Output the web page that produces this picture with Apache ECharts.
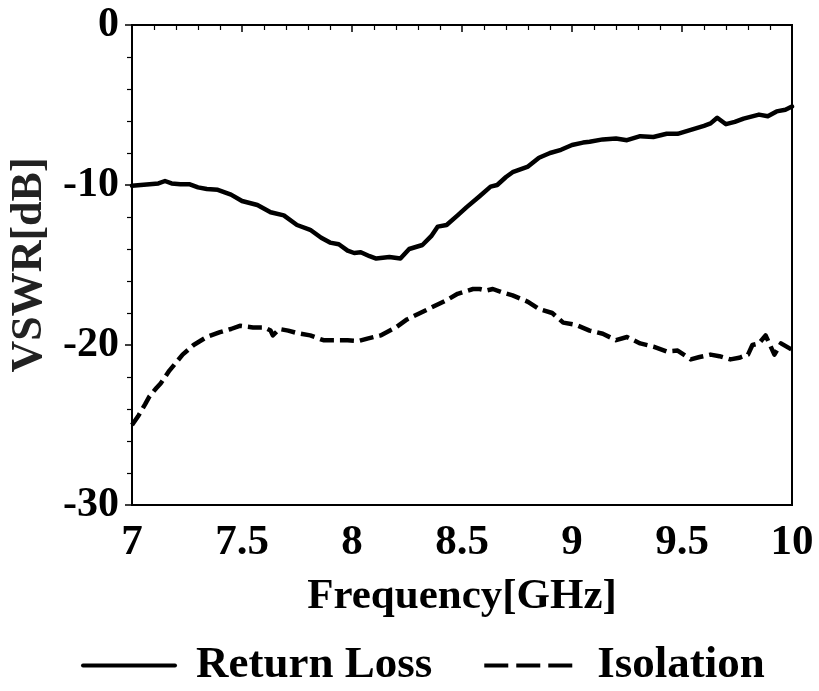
<!DOCTYPE html>
<html>
<head>
<meta charset="utf-8">
<script src="https://cdn.jsdelivr.net/npm/echarts@6/dist/echarts.min.js"></script>
<style>
html,body{margin:0;padding:0;background:#fff;}
#chart{width:819px;height:691px;}
</style>
</head>
<body>
<div id="chart"></div>
<script>
var returnLossFreq = [7.00,7.04,7.08,7.12,7.15,7.18,7.22,7.26,7.30,7.34,7.39,7.45,7.50,7.57,7.63,7.69,7.75,7.81,7.86,7.90,7.94,7.98,8.01,8.04,8.08,8.11,8.17,8.22,8.26,8.32,8.36,8.39,8.43,8.48,8.52,8.58,8.63,8.66,8.70,8.73,8.80,8.85,8.90,8.95,9.00,9.05,9.08,9.14,9.20,9.25,9.31,9.37,9.43,9.48,9.54,9.60,9.63,9.66,9.70,9.74,9.78,9.85,9.89,9.93,9.97,10.00];
var returnLossDb = [-10.05,-10.0,-9.95,-9.9,-9.75,-9.9,-9.95,-9.95,-10.15,-10.25,-10.3,-10.6,-11.0,-11.25,-11.7,-11.9,-12.5,-12.8,-13.3,-13.6,-13.7,-14.1,-14.25,-14.2,-14.45,-14.6,-14.5,-14.6,-14.0,-13.75,-13.2,-12.6,-12.5,-11.9,-11.4,-10.7,-10.1,-10.0,-9.5,-9.2,-8.85,-8.3,-8.0,-7.8,-7.5,-7.35,-7.3,-7.15,-7.1,-7.2,-6.95,-7.0,-6.8,-6.8,-6.55,-6.3,-6.15,-5.8,-6.2,-6.05,-5.85,-5.6,-5.7,-5.4,-5.3,-5.1];
var isolationFreq = [7.00,7.03,7.06,7.08,7.11,7.13,7.17,7.20,7.23,7.28,7.34,7.40,7.45,7.49,7.55,7.60,7.63,7.64,7.67,7.71,7.75,7.81,7.87,7.93,7.98,8.03,8.07,8.13,8.20,8.25,8.31,8.37,8.43,8.48,8.55,8.58,8.61,8.64,8.68,8.73,8.80,8.85,8.91,8.96,9.02,9.08,9.14,9.20,9.25,9.31,9.37,9.43,9.48,9.54,9.58,9.63,9.67,9.72,9.76,9.80,9.82,9.85,9.88,9.92,9.95,10.00];
var isolationDb = [-25.0,-24.4,-23.7,-23.2,-22.7,-22.4,-21.6,-21.1,-20.6,-20.0,-19.5,-19.2,-19.0,-18.8,-18.9,-18.9,-19.1,-19.4,-19.0,-19.1,-19.25,-19.4,-19.7,-19.7,-19.7,-19.75,-19.6,-19.4,-18.9,-18.4,-18.0,-17.6,-17.2,-16.8,-16.5,-16.5,-16.6,-16.5,-16.7,-16.9,-17.3,-17.75,-18.0,-18.6,-18.75,-19.1,-19.3,-19.7,-19.5,-19.9,-20.1,-20.4,-20.35,-20.9,-20.75,-20.6,-20.7,-20.9,-20.8,-20.6,-20.0,-19.9,-19.4,-20.6,-19.9,-20.3];
var xTickValues = [7,7.5,8,8.5,9,9.5,10];
var xTickLabels = ['7','7.5','8','8.5','9','9.5','10'];
var yTickValues = [0,-10,-20,-30];
var yTickLabels = ['0','-10','-20','-30'];
var seriesNames = ['Return Loss','Isolation'];

function pairs(xs, ys){ return xs.map(function(x,i){ return [x, ys[i]]; }); }
function lookup(vals, labels){
  return function(v){
    for (var i=0;i<vals.length;i++){ if (Math.abs(vals[i]-v)<1e-6) return labels[i]; }
    return '';
  };
}

var FONT = '"Liberation Serif","Times New Roman",serif';
var chart = echarts.init(document.getElementById('chart'), null, {renderer:'canvas'});
chart.setOption({
  animation:false,
  backgroundColor:'#fff',
  grid:{left:132, top:25, width:660, height:480, show:true, borderColor:'#000', borderWidth:2, containLabel:false},
  xAxis:{
    type:'value', min:7, max:10, interval:0.5,
    name:'Frequency[GHz]', nameLocation:'middle', nameGap:70,
    nameTextStyle:{fontFamily:FONT, fontWeight:'bold', fontSize:43, color:'#000'},
    axisLine:{show:true, lineStyle:{color:'#000', width:2}},
    axisTick:{show:true, inside:false, length:7, lineStyle:{color:'#000', width:1.5}},
    minorTick:{show:true, splitNumber:5, length:5, lineStyle:{color:'#000', width:1.2}},
    splitLine:{show:false},
    axisLabel:{margin:16, fontFamily:FONT, fontWeight:'bold', fontSize:43, color:'#000', formatter:lookup(xTickValues,xTickLabels)}
  },
  yAxis:{
    type:'value', min:-30, max:0, interval:10,
    name:'VSWR[dB]', nameLocation:'middle', nameGap:70, nameRotate:90,
    nameTextStyle:{fontFamily:FONT, fontWeight:'bold', fontSize:44, color:'#222'},
    axisLine:{show:true, lineStyle:{color:'#000', width:2}},
    axisTick:{show:true, inside:false, length:7, lineStyle:{color:'#000', width:1.5}},
    minorTick:{show:true, splitNumber:5, length:5, lineStyle:{color:'#000', width:1.2}},
    splitLine:{show:false},
    axisLabel:{margin:13, fontFamily:FONT, fontWeight:'bold', fontSize:42, color:'#000', formatter:lookup(yTickValues,yTickLabels)}
  },
  legend:{
    show:true, orient:'horizontal', left:81, top:643, padding:0, itemWidth:92, itemHeight:14, itemGap:50,
    itemStyle:{opacity:0},
    textStyle:{fontFamily:FONT, fontWeight:'bold', fontSize:45, color:'#000', padding:[0,0,0,16]},
    data:[
      {name:'Return Loss', lineStyle:{type:'solid', width:4, color:'#000'}},
      {name:'Isolation', lineStyle:{type:[24,8], width:4, color:'#000'}}
    ]
  },
  series:[
    {name:seriesNames[0], type:'line', data:pairs(returnLossFreq,returnLossDb), showSymbol:false, symbol:'none',
     lineStyle:{color:'#000', width:4.5, type:'solid', join:'round', cap:'round'}, itemStyle:{color:'#000'}},
    {name:seriesNames[1], type:'line', data:pairs(isolationFreq,isolationDb), showSymbol:false, symbol:'none',
     lineStyle:{color:'#000', width:4.5, type:[14,6], join:'round'}, itemStyle:{color:'#000'}}
  ]
});
</script>
</body>
</html>
